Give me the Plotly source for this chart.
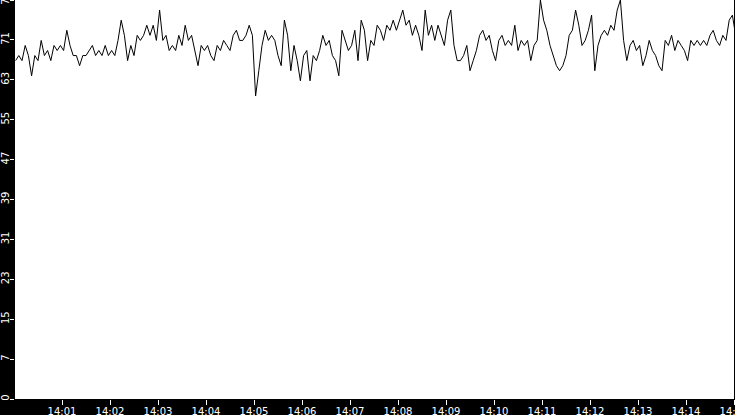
import numpy as np
import pandas as pd
import plotly.graph_objects as go

# logged readings, one every 4 s starting 14:00:02
start = "2024-01-01 14:00:02"
step_s = 4
values = [
    67, 68, 67, 70, 68, 64, 68, 67, 71, 68, 69, 67, 70, 69, 70, 69, 73, 70, 68, 68,
    66, 68, 68, 69, 70, 68, 69, 68, 70, 68, 69, 68, 71, 75, 72, 67, 70, 68, 72, 71,
    72, 74, 72, 74, 71, 77, 71, 72, 69, 70, 69, 72, 70, 74, 71, 72, 69, 66, 70, 69,
    70, 68, 67, 70, 69, 71, 70, 69, 72, 73, 71, 71, 72, 74, 72, 60, 65, 70, 73, 71,
    72, 71, 68, 66, 75, 72, 65, 70, 67, 63, 68, 69, 63, 68, 67, 69, 72, 70, 71, 68,
    67, 64, 73, 71, 69, 70, 73, 67, 75, 73, 67, 71, 70, 74, 73, 71, 74, 73, 75, 73,
    75, 77, 74, 75, 72, 74, 72, 69, 77, 72, 74, 71, 74, 72, 70, 75, 77, 70, 67, 67,
    68, 70, 65, 67, 69, 72, 73, 71, 72, 69, 67, 71, 72, 70, 71, 70, 74, 69, 71, 70,
    71, 67, 70, 71, 79, 75, 73, 70, 68, 66, 65, 66, 68, 72, 73, 77, 74, 70, 71, 73,
    76, 65, 70, 72, 73, 72, 74, 73, 77, 79, 71, 67, 70, 71, 69, 70, 66, 68, 71, 69,
    68, 66, 65, 71, 70, 72, 69, 71, 70, 69, 67, 71, 70, 71, 70, 71, 70, 72, 73, 71,
    70, 72, 71, 75, 76, 72,
]
times = pd.date_range(start, periods=len(values), freq=f"{step_s}s")

y_max = 79
y_ticks = np.linspace(0, y_max, 11)
y_labels = [str(int(v)) for v in y_ticks]

fig = go.Figure()
fig.add_trace(go.Scatter(x=times, y=values, mode="lines",
                         line=dict(color="black", width=1)))

fig.update_layout(
    width=735, height=415,
    margin=dict(l=15, r=1, t=0, b=16),
    paper_bgcolor="black", plot_bgcolor="white",
    showlegend=False,
    font=dict(family="DejaVu Sans", size=10, color="white"),
)
fig.update_xaxes(
    type="date",
    range=["2024-01-01 14:00:01.25", "2024-01-01 14:15:00"],
    dtick=60000, tickformat="%H:%M",
    ticks="outside", ticklen=5, tickcolor="white",
    ticklabelstandoff=-2, ticklabeloverflow="allow", automargin=False,
    showgrid=False, zeroline=False, showline=False,
)
fig.update_yaxes(
    range=[0, y_max],
    tickvals=y_ticks, ticktext=y_labels, tickangle=-90,
    ticks="outside", ticklen=4, tickcolor="white",
    ticklabelstandoff=-3, ticklabeloverflow="allow", automargin=False,
    showgrid=False, zeroline=False, showline=False,
)

# page has a default 8px body margin, drop it so the chart sits at 0,0
fig.write_html("out.html", config={"displayModeBar": False},
               post_script="document.body.style.margin='0';")
